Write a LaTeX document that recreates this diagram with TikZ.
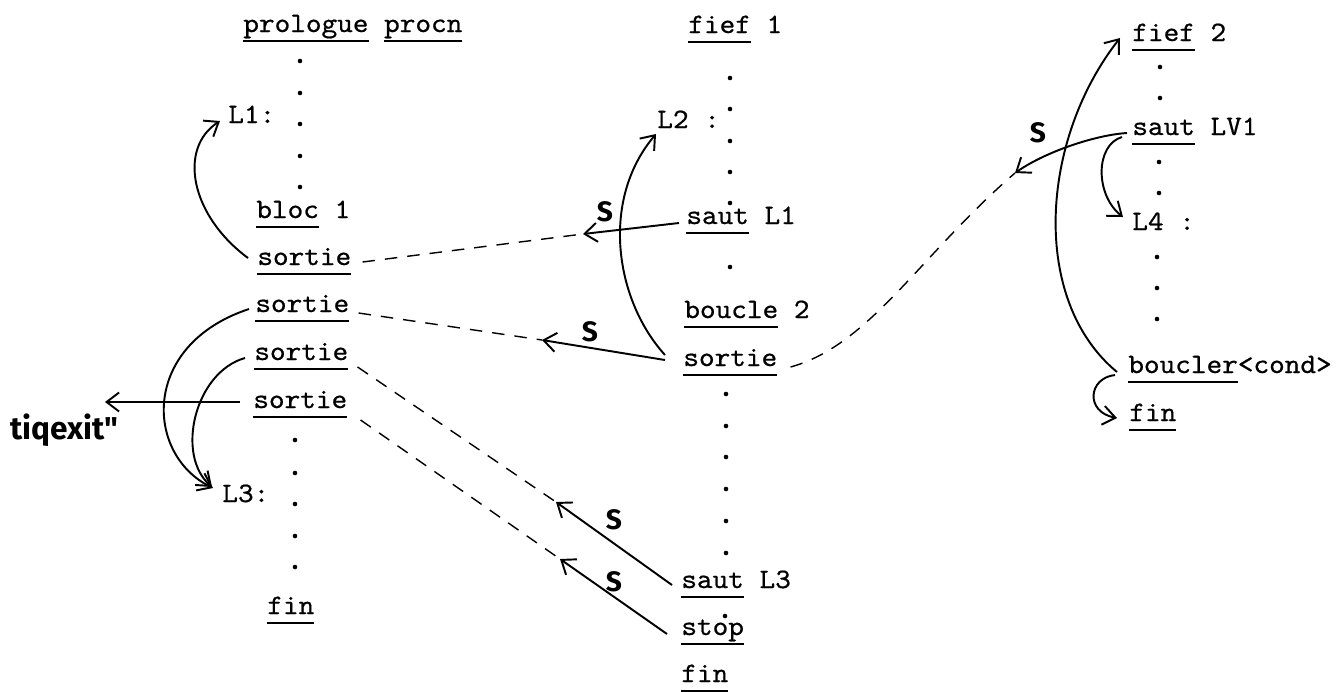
\documentclass[tikz,border=0pt]{standalone}
\usepackage{fontspec}
\setmonofont{lmmono10-regular.otf}[FakeStretch=1.06, FakeBold=0.6]
\newfontfamily\fontemain{Fira Sans}
\usetikzlibrary{arrows.meta}
\newsavebox\motbox
\newcommand\souligne[1]{\sbox\motbox{#1}\rlap{\rule[-0.19cm]{\wd\motbox}{1pt}}\usebox\motbox}
\begin{document}
\begin{tikzpicture}[
  x=0.02cm, y=-0.02cm,
  code/.style={font=\ttfamily\fontsize{16pt}{18pt}\selectfont, inner sep=0pt, anchor=base west},
  etiquette/.style={font=\fontemain\bfseries\fontsize{16pt}{18pt}\selectfont, inner sep=0pt},
  fleche/.style={line width=1.1pt, -{Straight Barb[length=2.5mm, width=3.8mm, line width=1.1pt]}},
  tirets/.style={line width=0.8pt, dash pattern=on 2.5mm off 2mm}
]
\useasboundingbox (0,0) rectangle (1343,691);
\node[code] (prologue) at (243,32) {\souligne{prologue} \souligne{procn}};
\node[code] (L1) at (228,123) {L1:};
\node[code] (bloc) at (256,218) {\souligne{bloc} 1};
\node[code] (sortieA) at (257,265) {\souligne{sortie}};
\node[code] (sortieB) at (255,312) {\souligne{sortie}};
\node[code] (sortieC) at (254,360) {\souligne{sortie}};
\node[code] (sortieD) at (253,408) {\souligne{sortie}};
\node[code] (L3) at (222,502) {L3:};
\node[code] (finA) at (267,614) {\souligne{fin}};
\node[etiquette, anchor=base west, font=\fontemain\bfseries\fontsize{18pt}{20pt}\selectfont] (tiqexit) at (10,439) {tiqexit"};
\node[code] (fiefA) at (688,33) {\souligne{fief} 1};
\node[code] (L2) at (657,128) {L2 :};
\node[code] (sautA) at (686,224) {\souligne{saut} L1};
\node[code] (boucle) at (684,318) {\souligne{boucle} 2};
\node[code] (sortieE) at (683,366) {\souligne{sortie}};
\node[code] (sautB) at (681,588) {\souligne{saut} L3};
\node[code] (stop) at (681,635) {\souligne{stop}};
\node[code] (finB) at (681,682) {\souligne{fin}};
\node[code] (fiefB) at (1132,41) {\souligne{fief} 2};
\node[code] (sautC) at (1132,135) {\souligne{saut} LV1};
\node[code] (L4) at (1132,230) {L4 :};
\node[code] (boucler) at (1128,373) {\souligne{boucler}<cond>};
\node[code] (finC) at (1129,421) {\souligne{fin}};
\coordinate (pA) at (583,234);
\coordinate (pB) at (542,340);
\coordinate (pC) at (556,502);
\coordinate (pD) at (560,559);
\coordinate (pE) at (1015,173);
\coordinate (tq) at (105,402);
\node[etiquette] (sA) at (605,212) {S};
\node[etiquette] (sB) at (590,332) {S};
\node[etiquette] (sC) at (614,520) {S};
\node[etiquette] (sD) at (614,582) {S};
\node[etiquette] (sE) at (1038,133) {S};
\fill (300,61) circle[radius=2.3] (300,93) circle[radius=2.3] (300,124) circle[radius=2.3] (300,156) circle[radius=2.3] (300,187) circle[radius=2.3];
\fill (295,440) circle[radius=2.3] (295,473) circle[radius=2.3] (295,504) circle[radius=2.3] (295,536) circle[radius=2.3] (295,567) circle[radius=2.3];
\fill (730,78) circle[radius=2.3] (730,109) circle[radius=2.3] (730,141) circle[radius=2.3] (730,172) circle[radius=2.3] (730,203) circle[radius=2.3] (730,267) circle[radius=2.3];
\fill (726,394) circle[radius=2.3] (726,426) circle[radius=2.3] (726,457) circle[radius=2.3] (726,489) circle[radius=2.3] (726,521) circle[radius=2.3] (726,553) circle[radius=2.3] (725,616) circle[radius=2.3];
\fill (1160,67) circle[radius=2.3] (1160,98) circle[radius=2.3] (1159,162) circle[radius=2.3] (1159,193) circle[radius=2.3];
\fill (1157,257) circle[radius=2.3] (1157,288) circle[radius=2.3] (1157,319) circle[radius=2.3];
\draw[fleche] ([shift={(-9,-7)}]sortieA.base west) .. controls (190,215) and (178,148) .. ([shift={(-8,-2)}]L1.base west);
\draw[fleche] ([shift={(-6,-3)}]sortieB.base west) .. controls (140,345) and (145,455) .. ([shift={(-9,-14)}]L3.base west);
\draw[fleche] ([shift={(-9,-2)}]sortieC.base west) .. controls (195,372) and (175,455) .. ([shift={(-10,-15)}]L3.base west);
\draw[fleche] ([shift={(-13,-6)}]sortieD.base west) -- (tq);
\draw[tirets] ([shift={(11,-3)}]sortieA.base east) -- (pA);
\draw[fleche] ([shift={(-7,-1)}]sautA.base west) -- (pA);
\draw[tirets] ([shift={(9,1)}]sortieB.base east) -- (pB);
\draw[fleche] ([shift={(-18,-6)}]sortieE.base west) -- (pB);
\draw[fleche] ([shift={(-18,-11)}]sortieE.base west) .. controls (615,300) and (600,200) .. ([shift={(-1,6)}]L2.base west);
\draw[tirets] ([shift={(9,7)}]sortieC.base east) -- (pC);
\draw[fleche] ([shift={(-9,-3)}]sautB.base west) -- (pC);
\draw[tirets] ([shift={(13,12)}]sortieD.base east) -- (pD);
\draw[fleche] ([shift={(-14,-1)}]stop.base west) -- (pD);
\draw[tirets] ([shift={(13,1)}]sortieE.base east) .. controls (870,345) and (920,255) .. (pE);
\draw[fleche] ([shift={(-5,-2)}]sautC.base west) .. controls (1095,135) and (1045,152) .. (pE);
\draw[fleche] ([shift={(-10,2)}]sautC.base west) .. controls (1095,145) and (1095,195) .. ([shift={(-9,-13)}]L4.base west);
\draw[fleche] ([shift={(-13,2)}]boucler.base west) .. controls (1088,378) and (1085,412) .. ([shift={(-12,-3)}]finC.base west);
\draw[fleche] ([shift={(-11,-1)}]boucler.base west) .. controls (1030,300) and (1040,140) .. ([shift={(-12,-3)}]fiefB.base west);
\end{tikzpicture}
\end{document}
